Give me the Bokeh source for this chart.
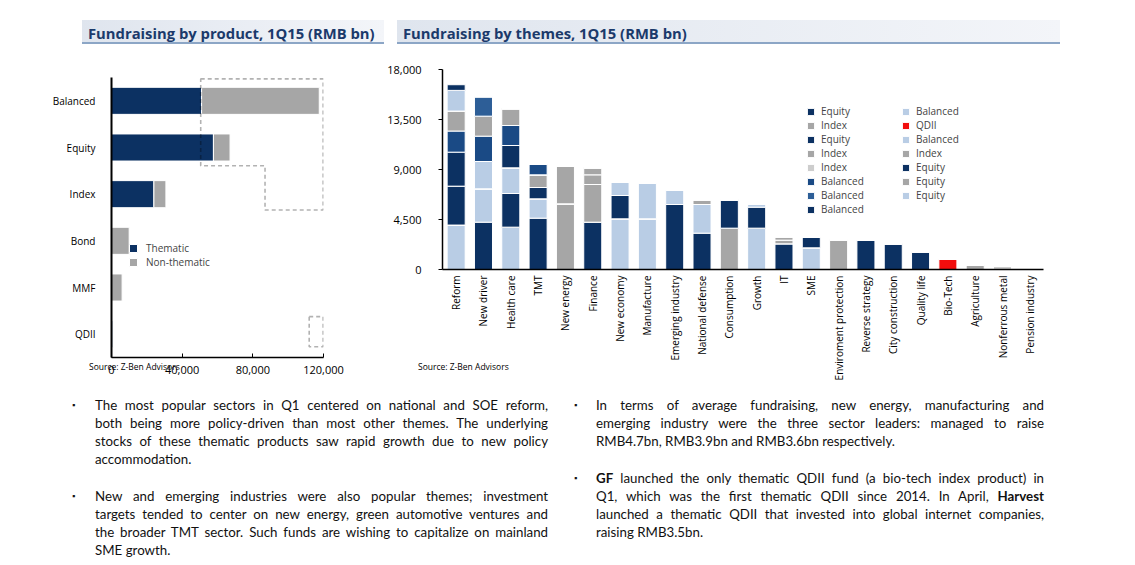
import math
from bokeh.plotting import figure
from bokeh.models import (ColumnDataSource, FactorRange, Range1d, Legend, LegendItem,
                          PolyAnnotation, Div, NumeralTickFormatter, FixedTicker)
from bokeh.layouts import column, row
from bokeh.embed import file_html
from bokeh.resources import INLINE

# ---------------- data: fundraising by product ----------------
products = ["Balanced", "Equity", "Index", "Bond", "MMF", "QDII"]
thematic = [51000, 57700, 24000, 0, 0, 900]
non_thematic = [66600, 9400, 6800, 10000, 6000, 0]
product_ticks = [0, 40000, 80000, 120000]

# ---------------- data: fundraising by themes ----------------
themes = ["Reform", "New driver", "Health care", "TMT", "New energy", "Finance",
          "New economy", "Manufacture", "Emerging industry", "National defense",
          "Consumption", "Growth", "IT", "SME", "Enviroment protection",
          "Reverse strategy", "City construction", "Quality life", "Bio-Tech",
          "Agriculture", "Nonferrous metal", "Pension industry"]
series_labels = ["Equity", "Balanced", "Index", "QDII", "Equity", "Balanced", "Index",
                 "Index", "Index", "Equity", "Balanced", "Equity", "Balanced", "Equity",
                 "Balanced"]
s1 = [0, 4260, 0, 4620, 0, 4260, 0, 0, 5850, 3270, 0, 0, 2310, 0, 0, 2610, 2310, 1590, 0, 0, 0, 0]
s2 = [4000, 3000, 3810, 1740, 0, 0, 4560, 4560, 1260, 2580, 0, 3720, 0, 1950, 0, 0, 0, 0, 0, 0, 0, 0]
s3 = [0, 0, 0, 0, 5910, 3390, 0, 0, 0, 420, 3720, 0, 330, 0, 2670, 0, 0, 0, 0, 390, 0, 0]
s4 = [0, 0, 0, 0, 0, 0, 0, 0, 0, 0, 0, 0, 0, 0, 0, 0, 0, 0, 900, 0, 0, 0]
s5 = [3500, 0, 3030, 1020, 0, 0, 2100, 0, 0, 0, 2550, 1890, 0, 960, 0, 0, 0, 0, 0, 0, 0, 0]
s6 = [0, 2460, 2310, 0, 0, 0, 1200, 3210, 0, 0, 0, 240, 0, 0, 0, 0, 0, 0, 0, 0, 0, 0]
s7 = [0, 0, 0, 1140, 3360, 870, 0, 0, 0, 0, 0, 0, 300, 0, 0, 0, 0, 0, 0, 0, 0, 0]
s8 = [0, 0, 0, 0, 0, 630, 0, 0, 0, 0, 0, 0, 0, 0, 0, 0, 0, 0, 0, 0, 0, 0]
s9 = [0, 0, 0, 0, 0, 0, 0, 0, 0, 0, 0, 0, 0, 0, 0, 0, 0, 0, 0, 0, 300, 0]
s10 = [3060, 0, 2010, 0, 0, 0, 0, 0, 0, 0, 0, 0, 0, 0, 0, 0, 0, 0, 0, 0, 0, 0]
s11 = [1900, 2280, 1800, 930, 0, 0, 0, 0, 0, 0, 0, 0, 0, 0, 0, 0, 0, 0, 0, 0, 0, 0]
s12 = [1800, 1800, 1500, 0, 0, 0, 0, 0, 0, 0, 0, 0, 0, 0, 0, 0, 0, 0, 0, 0, 0, 0]
s13 = [0, 1740, 0, 0, 0, 0, 0, 0, 0, 0, 0, 0, 0, 0, 0, 0, 0, 0, 0, 0, 0, 0]
s14 = [1860, 0, 0, 0, 0, 0, 0, 0, 0, 0, 0, 0, 0, 0, 0, 0, 0, 0, 0, 0, 0, 0]
s15 = [510, 0, 0, 0, 0, 0, 0, 0, 0, 0, 0, 0, 0, 0, 0, 0, 0, 0, 0, 0, 0, 0]
theme_ticks = [0, 4500, 9000, 13500, 18000]

# ---------------- text ----------------
title_left = "Fundraising by product, 1Q15 (RMB bn)"
title_right = "Fundraising by themes, 1Q15 (RMB bn)"
source_text = "Source: Z-Ben Advisors"
para_l1 = ["The most popular sectors in Q1 centered on national and SOE reform,",
           "both being more policy-driven than most other themes. The underlying",
           "stocks of these thematic products saw rapid growth due to new policy",
           "accommodation."]
para_l2 = ["New and emerging industries were also popular themes; investment",
           "targets tended to center on new energy, green automotive ventures and",
           "the broader TMT sector. Such funds are wishing to capitalize on mainland",
           "SME growth."]
para_r1 = ["In terms of average fundraising, new energy, manufacturing and",
           "emerging industry were the three sector leaders: managed to raise",
           "RMB4.7bn, RMB3.9bn and RMB3.6bn respectively."]
para_r2 = ["<b>GF</b> launched the only thematic QDII fund (a bio-tech index product) in",
           "Q1, which was the first thematic QDII since 2014. In April, <b>Harvest</b>",
           "launched a thematic QDII that invested into global internet companies,",
           "raising RMB3.5bn."]

# ---------------- styles ----------------
FONT = "Open Sans"
NAVY = "#0c3162"
LBLUE = "#b9cde5"
GRAY = "#a6a6a6"
LGRAY = "#cdcdcd"
MBLUE = "#1a4a85"
SBLUE = "#2d5e97"
RED = "#f20d0d"
series_colors = [NAVY, LBLUE, GRAY, RED, NAVY, LBLUE, GRAY, GRAY, LGRAY, NAVY,
                 MBLUE, GRAY, SBLUE, LBLUE, NAVY]
TITLE_COLOR = "#1b3a6b"
W1, W2 = 376, 686


def title_div(text, width, band_left, band_width):
    html = (
        f'<div style="position:relative;width:{width}px;height:40px;">'
        f'<div style="position:absolute;left:{band_left}px;top:12px;width:{band_width}px;height:24px;'
        'background:linear-gradient(to right,#dfe5ee,#f3f5f9);border-bottom:2px solid #8ca6c6;">'
        f'<span style="position:absolute;left:6px;top:0px;line-height:26px;white-space:nowrap;'
        f'font-family:\'{FONT}\';font-weight:bold;font-size:14.8px;color:{TITLE_COLOR};">{text}</span>'
        '</div></div>'
    )
    return Div(text=html, width=width, height=40, margin=(0, 0, 0, 0))


def para_html(lines, top, bullet_left, text_left, text_width):
    out = (f'<div style="position:absolute;left:{bullet_left}px;top:{top}px;line-height:18px;'
           'font-size:9px;color:#111;">&#9642;</div>')
    out += (f'<div style="position:absolute;left:{text_left}px;top:{top}px;width:{text_width}px;'
            'font-family:Lato;font-size:13.3px;line-height:18px;color:#111;">')
    for i, ln in enumerate(lines):
        last = i == len(lines) - 1
        align = "text-align:left;" if last else "text-align:justify;text-align-last:justify;"
        out += f'<div style="{align}white-space:nowrap;">{ln}</div>'
    out += '</div>'
    return out


def source_html(left, top):
    return (f'<div style="position:absolute;left:{left}px;top:{top}px;line-height:12px;'
            f'font-family:\'{FONT}\';font-size:8.5px;color:#000;white-space:nowrap;">{source_text}</div>')


# ---------------- left chart ----------------
src1 = ColumnDataSource(dict(product=products, thematic=thematic, non_thematic=non_thematic))
p1 = figure(width=W1, height=337, y_range=FactorRange(factors=products[::-1]),
            x_range=Range1d(0, 120000), output_backend="svg", toolbar_location=None,
            min_border_left=103, min_border_right=W1 - 315, min_border_top=29,
            min_border_bottom=28)
p1.outline_line_color = None
p1.grid.visible = False
r1 = p1.hbar_stack(["thematic", "non_thematic"], y="product", height=0.58,
                   color=[NAVY, GRAY], source=src1, line_color="white", line_width=1)
p1.xaxis.ticker = FixedTicker(ticks=product_ticks)
p1.xaxis.formatter = NumeralTickFormatter(format="0,0")
p1.xaxis.major_tick_in = 4
p1.xaxis.major_tick_out = 0
p1.xaxis.minor_tick_line_color = None
p1.xaxis.axis_line_width = 1.5
p1.xaxis.major_label_standoff = 8
p1.yaxis.major_tick_in = 0
p1.yaxis.major_tick_out = 0
p1.yaxis.axis_line_width = 2
p1.yaxis.major_label_standoff = 16
for ax in (p1.xaxis, p1.yaxis):
    ax.major_label_text_font = FONT
    ax.major_label_text_color = "black"
    ax.axis_line_color = "black"
    ax.major_tick_line_color = "black"
p1.xaxis.major_label_text_font_size = "11px"
p1.yaxis.major_label_text_font_size = "10px"

leg1 = Legend(items=[LegendItem(label="Thematic", renderers=[r1[0]]),
                     LegendItem(label="Non-thematic", renderers=[r1[1]])],
              location=(17, 88), label_text_font=FONT, label_text_font_size="10px",
              glyph_width=10, glyph_height=10, label_height=9, label_standoff=8,
              spacing=0, padding=0, margin=0, border_line_color=None,
              background_fill_alpha=0)
p1.add_layout(leg1)

bal_t = thematic[0]
p1.add_layout(PolyAnnotation(xs=[bal_t - 500, 119800, 119800, 86900, 86900, bal_t - 500],
                             ys=[5.97, 5.97, 3.16, 3.16, 4.11, 4.11],
                             fill_alpha=0, line_color="#000000", line_width=1.6, line_dash="4 3"))
p1.add_layout(PolyAnnotation(xs=[111900, 119800, 119800, 111900],
                             ys=[0.875, 0.875, 0.23, 0.23],
                             fill_alpha=0, line_color="#000000", line_width=1.6, line_dash="4 3"))

# ---------------- right chart ----------------
skeys = [f"s{i}" for i in range(1, 16)]
svals = [s1, s2, s3, s4, s5, s6, s7, s8, s9, s10, s11, s12, s13, s14, s15]
data2 = dict(theme=themes)
for k, v in zip(skeys, svals):
    data2[k] = v
src2 = ColumnDataSource(data2)
p2 = figure(width=W2, height=337, x_range=FactorRange(factors=themes),
            y_range=Range1d(0, 18000), output_backend="svg", toolbar_location=None,
            min_border_left=441 - 8 - W1, min_border_right=8 + W1 + W2 - 1043,
            min_border_top=21, min_border_bottom=116)
p2.outline_line_color = None
p2.grid.visible = False
r2 = p2.vbar_stack(skeys, x="theme", width=0.66, color=series_colors, source=src2,
                   line_color="white", line_width=1)
p2.yaxis.ticker = FixedTicker(ticks=theme_ticks)
p2.yaxis.formatter = NumeralTickFormatter(format="0,0")
p2.yaxis.major_tick_out = 4
p2.yaxis.major_tick_in = 0
p2.yaxis.minor_tick_line_color = None
p2.yaxis.major_label_standoff = 17
p2.yaxis.axis_line_width = 1.5
p2.yaxis.major_label_text_font_size = "11px"
p2.xaxis.major_label_orientation = math.pi / 2
p2.xaxis.major_tick_out = 0
p2.xaxis.major_tick_in = 0
p2.xaxis.major_label_standoff = 6
p2.xaxis.axis_line_width = 1.5
p2.xaxis.major_label_text_font_size = "10px"
for ax in (p2.xaxis, p2.yaxis):
    ax.major_label_text_font = FONT
    ax.major_label_text_color = "black"
    ax.axis_line_color = "black"
    ax.major_tick_line_color = "black"

leg_kw = dict(label_text_font=FONT, label_text_font_size="10px", glyph_width=9,
              glyph_height=9, label_height=9, label_standoff=6, spacing=0, padding=0,
              margin=0, border_line_color=None, background_fill_alpha=0)
legA = Legend(items=[LegendItem(label=series_labels[i], renderers=[r2[i]]) for i in range(0, 15, 2)],
              location=(364, 53), **leg_kw)
legB = Legend(items=[LegendItem(label=series_labels[i], renderers=[r2[i]]) for i in range(1, 15, 2)],
              location=(459, 67), **leg_kw)
p2.add_layout(legA)
p2.add_layout(legB)

# ---------------- text block (pulled up to overlap the plots' bottom margin) ----------------
text_html = ('<div style="position:relative;width:1070px;height:205px;">'
             + source_html(81, 6) + source_html(410, 6)
             + para_html(para_l1, 41, 64, 87, 453)
             + para_html(para_l2, 132, 64, 87, 453)
             + para_html(para_r1, 41, 566, 588, 448)
             + para_html(para_r2, 114, 566, 588, 448) + '</div>')
text_div = Div(text=text_html, width=1070, height=205, margin=(-30, 0, 0, 0))

t1 = title_div(title_left, W1, 74, 302)
t2 = title_div(title_right, W2, 397 - 8 - W1, 663)

left = column(t1, p1, spacing=0)
right = column(t2, p2, spacing=0)
layout = column(row(left, right, spacing=0), text_div, spacing=0, margin=(8, 0, 0, 8))

open("out.html", "w").write(file_html(layout, INLINE))
